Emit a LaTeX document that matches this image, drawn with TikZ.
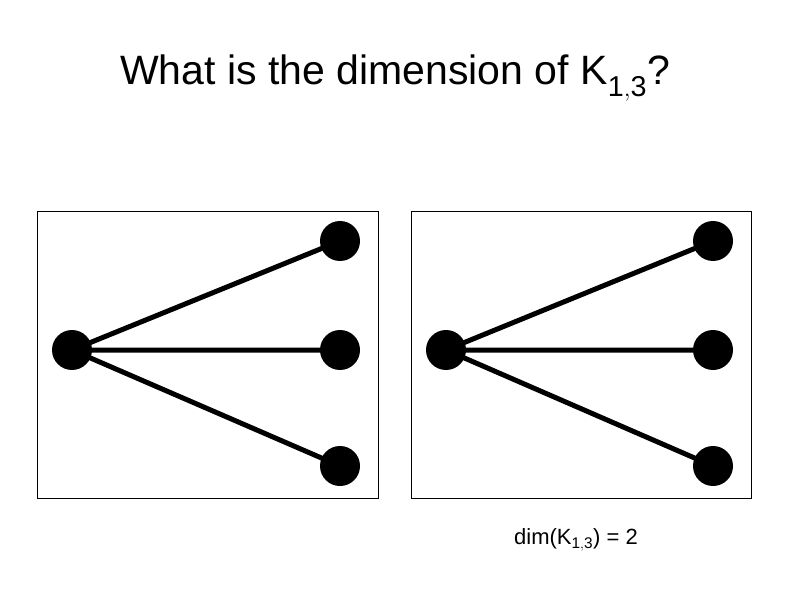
\documentclass[tikz,border=0pt]{standalone}
\usepackage{fontspec}
\setmainfont{Liberation Sans}
\begin{document}
\begin{tikzpicture}[x=1pt,y=-1pt,
  vtx/.style={circle,fill=black,minimum size=40pt,inner sep=0pt},
  edge/.style={line width=5pt},
  frame/.style={draw=black,line width=0.8pt}]
\useasboundingbox (0,0) rectangle (792,612);
\node (title) at (395,78) {\fontsize{41}{48}\selectfont What is the dimension of K$_{\mathrm{1,3}}$?};
\draw[frame] (37,211) rectangle (378,498);
\draw[frame] (411,211) rectangle (751,498);
\node[vtx] (a0) at (72,350) {};
\node[vtx] (a1) at (340,241) {};
\node[vtx] (a2) at (340,350) {};
\node[vtx] (a3) at (340,466) {};
\node[vtx] (b0) at (446,350) {};
\node[vtx] (b1) at (713,241) {};
\node[vtx] (b2) at (713,350) {};
\node[vtx] (b3) at (713,466) {};
\draw[edge] (a0.center) -- (a1.center) (a0.center) -- (a2.center) (a0.center) -- (a3.center);
\draw[edge] (b0.center) -- (b1.center) (b0.center) -- (b2.center) (b0.center) -- (b3.center);
\node (lbl) at (576,540) {\fontsize{22}{26}\selectfont dim(K$_{\mathrm{1,3}}$) = 2};
\end{tikzpicture}
\end{document}
